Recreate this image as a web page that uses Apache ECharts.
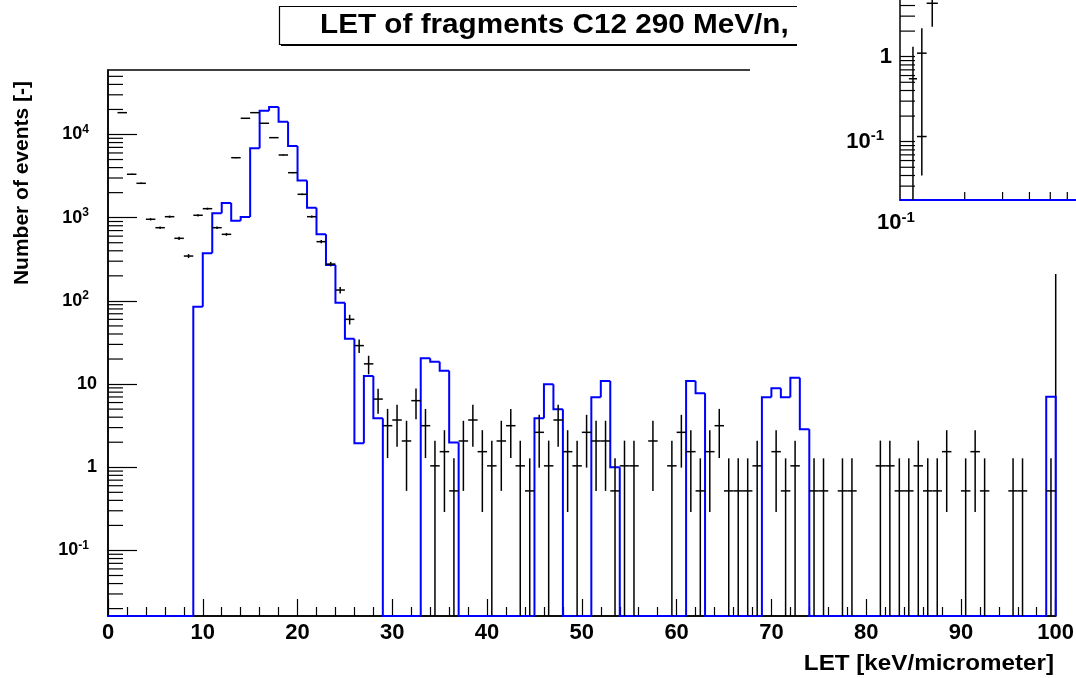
<!DOCTYPE html>
<html><head><meta charset="utf-8">
<script src="https://cdn.jsdelivr.net/npm/echarts@6/dist/echarts.min.js"></script>
<style>html,body{margin:0;padding:0;background:#fff}#c{width:1076px;height:678px}</style>
</head><body><div id="c"></div>
<script>
// ---------- text ----------
const titleText = 'LET of fragments C12 290 MeV/n,';
const xTitle = 'LET [keV/micrometer]';
const yTitle = 'Number of events [-]';

// ---------- data: 100 bins of 1 keV/um from 0 to 100 ----------
const letRange = [0, 100];
// measured events (black points with error bars)
const dataCounts = [
  0, 18300, 3325, 2590, 957, 758, 1028, 565, 346, 1069,
  1283, 758, 631, 5260, 15660, 18300, 13640, 9160, 5670, 3475,
  1910, 1028, 515, 277, 135, 60, 29, 17.5, 6.6, 3.16,
  3.70, 2.07, 6.32, 3.16, 1.04, 1.54, 0.52, 2.07, 3.70, 1.54,
  1.04, 2.07, 3.16, 1.04, 0.52, 2.63, 1.04, 3.70, 1.54, 1.04,
  2.63, 2.07, 2.07, 0.52, 1.04, 1.04, 0, 2.07, 0, 1.04,
  2.63, 1.54, 0.52, 1.54, 3.16, 0.52, 0.52, 0.52, 1.04, 0,
  1.54, 0.52, 1.04, 0, 0.52, 0.52, 0, 0.52, 0.52, 0,
  0, 1.04, 1.04, 0.52, 0.52, 1.04, 0.52, 0.52, 1.54, 0,
  0.52, 1.54, 0.52, 0, 0, 0.52, 0.52, 0, 0, 0.52
];
const dataErrors = [
  0, 140, 58, 51, 31, 28, 32, 24, 19, 33,
  36, 28, 25, 73, 125, 135, 117, 96, 75, 59,
  44, 32, 23, 17, 12, 8, 5.3, 4.4, 2.2, 1.87,
  1.93, 1.55, 2.55, 1.87, 1.05, 1.25, 0.76, 1.55, 1.93, 1.25,
  1.05, 1.55, 1.87, 1.05, 0.76, 1.64, 1.05, 1.93, 1.25, 1.05,
  1.64, 1.55, 1.55, 0.76, 1.05, 1.05, 0, 1.55, 0, 1.05,
  1.64, 1.25, 0.76, 1.25, 1.87, 0.76, 0.76, 0.76, 1.05, 0,
  1.25, 0.76, 1.05, 0, 0.76, 0.76, 0, 0.76, 0.76, 0,
  0, 1.05, 1.05, 0.76, 0.76, 1.05, 0.76, 0.76, 1.25, 0,
  0.76, 1.25, 0.76, 0, 0, 0.76, 0.76, 0, 0, 0.76
];
// simulation (blue histogram)
const mcCounts = [
  0, 0, 0, 0, 0, 0, 0, 0, 0, 85,
  373, 1130, 1500, 918, 1020, 6830, 19260, 21400, 14250, 7280,
  2790, 1320, 631, 270, 95, 35, 1.94, 12.5, 3.88, 0,
  0, 0, 0, 20.4, 18.6, 14.5, 1.98, 0, 0, 0,
  0, 0, 0, 0, 0, 3.88, 9.95, 4.98, 0, 0,
  0, 6.94, 10.9, 1.0, 0, 0, 0, 0, 0, 0,
  0, 10.9, 7.75, 0, 0, 0, 0, 0, 0, 6.94,
  8.9, 6.94, 11.9, 2.86, 0, 0, 0, 0, 0, 0,
  0, 0, 0, 0, 0, 0, 0, 0, 0, 0,
  0, 0, 0, 0, 0, 0, 0, 0, 0, 7.05
];
const yRange = [0.0163, 59600];

// inset (partly hidden second plot, log-log)
const insetBinLo = [0.11, 0.12, 0.133];
const insetBinHi = [0.12, 0.133, 0.15];
const insetCounts = [0.55, 1.1, 4.25];
const insetErrors = [0.76, 1.06, 2.0];
const insetExtraX = [0.12, 0.133];
const insetExtraY = [0.115];
const insetXRange = [0.1, 1];
const insetYRange = [0.0206, 18.0];

// ---------- helpers ----------
const FONT = 'Liberation Sans';
function powLabel(v) {
  const e = Math.round(Math.log10(v));
  if (e === 0) return '{b|1}';
  if (e === 1) return '{b|10}';
  return '{b|10}{s|' + e + '}';
}
function bottomOf(params) { return params.coordSys.y + params.coordSys.height; }
function topOf(params) { return params.coordSys.y; }
function yPix(api, params, x, v) {
  if (!(v > 0)) return bottomOf(params);
  return Math.max(topOf(params), Math.min(api.coord([x, v])[1], bottomOf(params)));
}

const nBins = dataCounts.length;
const binW = (letRange[1] - letRange[0]) / nBins;
const mcItems = mcCounts.map((v, i) => [letRange[0] + i * binW, letRange[0] + (i + 1) * binW, v, i > 0 ? mcCounts[i - 1] : 0]);
const dataItems = [];
dataCounts.forEach((v, i) => { if (v > 0) dataItems.push([letRange[0] + i * binW, letRange[0] + (i + 1) * binW, v, dataErrors[i]]); });
const insetItems = insetCounts.map((v, i) => [insetBinLo[i], insetBinHi[i], v, insetErrors[i]]);
const insetExtraItems = insetExtraY.map(v => [insetExtraX[0], insetExtraX[1], v, 0]);

// minor log ticks (2..9 x 10^k)
function logMinor(lo, hi) {
  const out = [];
  for (let k = -3; k <= 5; k++) for (let m = 2; m <= 9; m++) {
    const v = m * Math.pow(10, k);
    if (v > lo && v < hi) out.push(v);
  }
  return out;
}
const mainMinorY = logMinor(yRange[0], yRange[1]).map(v => [letRange[0], v]);
const insetMinorY = logMinor(insetYRange[0], insetYRange[1]).map(v => [insetXRange[0], v]);
const insetMinorX = logMinor(insetXRange[0], insetXRange[1]).map(v => [v, insetYRange[0]]);

function errRender(color, lw) {
  return function (params, api) {
    const lo = api.value(0), hi = api.value(1), v = api.value(2), e = api.value(3);
    const xl = api.coord([lo, v])[0], xh = api.coord([hi, v])[0];
    const xc = (xl + xh) / 2;
    const y = api.coord([lo, v])[1];
    const yTop = yPix(api, params, lo, v + e);
    const yBot = (v - e > 0) ? yPix(api, params, lo, v - e) : bottomOf(params);
    return {
      type: 'group',
      children: [
        { type: 'line', shape: { x1: xl, y1: y, x2: xh, y2: y }, style: { stroke: color, lineWidth: lw } },
        { type: 'line', shape: { x1: xc, y1: yTop, x2: xc, y2: yBot }, style: { stroke: color, lineWidth: lw } }
      ]
    };
  };
}

const richMain = {
  b: { fontFamily: FONT, fontWeight: 'bold', fontSize: 18, color: '#000', lineHeight: 22 },
  s: { fontFamily: FONT, fontWeight: 'bold', fontSize: 12, color: '#000', verticalAlign: 'top', lineHeight: 12, padding: [0, 8, 0, 0] }
};
const richInset = {
  b: { fontFamily: FONT, fontWeight: 'bold', fontSize: 22, color: '#000', lineHeight: 26 },
  s: { fontFamily: FONT, fontWeight: 'bold', fontSize: 15, color: '#000', verticalAlign: 'top', lineHeight: 15, padding: [0, 8, 0, 0] }
};

const option = {
  animation: false,
  backgroundColor: '#fff',
  grid: [
    { left: 108, top: 70, right: 20.3, bottom: 62, containLabel: false, outerBoundsMode: 'none',
      show: true, borderColor: '#000', borderWidth: 1.5, backgroundColor: 'transparent' },
    { left: 900, top: -50, width: 215, height: 250, containLabel: false, outerBoundsMode: 'none', show: false }
  ],
  xAxis: [
    { type: 'value', gridIndex: 0, min: letRange[0], max: letRange[1], interval: 10,
      axisLine: { show: true, lineStyle: { color: '#000', width: 1.5 } },
      axisTick: { show: true, inside: true, length: 17, lineStyle: { color: '#000', width: 1.2 } },
      minorTick: { show: true, splitNumber: 5, length: 9, lineStyle: { color: '#000', width: 1.2 } },
      splitLine: { show: false },
      axisLabel: { margin: 6, fontFamily: FONT, fontWeight: 'bold', fontSize: 22, color: '#000' }
    },
    { type: 'log', gridIndex: 1, min: insetXRange[0], max: insetXRange[1], z: 60,
      axisLine: { show: true, lineStyle: { color: '#0000ff', width: 2 } },
      axisTick: { show: false },
      splitLine: { show: false },
      axisLabel: { margin: 10, formatter: powLabel, rich: richInset, showMaxLabel: false }
    }
  ],
  yAxis: [
    { type: 'log', gridIndex: 0, min: yRange[0], max: yRange[1],
      axisLine: { show: true, lineStyle: { color: '#000', width: 1.5 } },
      axisTick: { show: true, inside: true, length: 29, lineStyle: { color: '#000', width: 1.2 } },
      splitLine: { show: false },
      axisLabel: { margin: 11, formatter: powLabel, rich: richMain, showMinLabel: false, showMaxLabel: false }
    },
    { type: 'log', gridIndex: 1, min: insetYRange[0], max: insetYRange[1], z: 60,
      axisLine: { show: true, lineStyle: { color: '#000', width: 1.5 } },
      axisTick: { show: true, inside: true, length: 15, lineStyle: { color: '#000', width: 1.2 } },
      splitLine: { show: false },
      axisLabel: { margin: 8, formatter: powLabel, rich: richInset, showMinLabel: false, showMaxLabel: false }
    }
  ],
  graphic: [
    { type: 'rect', z: 1, shape: { x: 281, y: 8, width: 620, height: 38 }, style: { fill: '#000' } },
    { type: 'rect', z: 2, shape: { x: 279.5, y: 6.5, width: 620, height: 38 }, style: { fill: '#fff', stroke: '#000', lineWidth: 1.2 } },
    { type: 'text', z: 3, x: 320, y: 25.5, scaleX: 1.1,
      style: { text: titleText, font: 'bold 27px "Liberation Sans"', fill: '#000', textAlign: 'left', textVerticalAlign: 'middle' } },
    { type: 'polygon', z: 50, shape: { points: [[750, 50], [797, 50], [797, 0], [1076, 0], [1076, 274], [750, 274]] }, style: { fill: '#fff' } },
    { type: 'text', z: 3, x: 22, y: 183, rotation: Math.PI / 2,
      style: { text: yTitle, font: 'bold 21px "Liberation Sans"', fill: '#000', textAlign: 'center', textVerticalAlign: 'middle' } },
    { type: 'text', z: 3, x: 1054, y: 664, scaleX: 1.1,
      style: { text: xTitle, font: 'bold 22px "Liberation Sans"', fill: '#000', textAlign: 'right', textVerticalAlign: 'middle' } }
  ],
  series: [
    { type: 'custom', name: 'minorY', xAxisIndex: 0, yAxisIndex: 0, coordinateSystem: 'cartesian2d', z: 3, silent: true,
      encode: { x: 0, y: 1 }, data: mainMinorY, clip: false,
      renderItem: (params, api) => {
        const p = api.coord([api.value(0), api.value(1)]);
        return { type: 'line', shape: { x1: p[0], y1: p[1], x2: p[0] + 15, y2: p[1] }, style: { stroke: '#000', lineWidth: 1.2 } };
      } },
    { type: 'custom', name: 'simulation', xAxisIndex: 0, yAxisIndex: 0, coordinateSystem: 'cartesian2d', z: 5, clip: false,
      encode: { x: [0, 1], y: 2 }, data: mcItems,
      renderItem: (params, api) => {
        const lo = api.value(0), hi = api.value(1), v = api.value(2), pv = api.value(3);
        const xl = api.coord([lo, yRange[1]])[0], xh = api.coord([hi, yRange[1]])[0];
        const y = yPix(api, params, lo, v), yp = yPix(api, params, lo, pv);
        const pts = [[xl, yp], [xl, y], [xh, y]];
        if (params.dataIndex === mcItems.length - 1) pts.push([xh, bottomOf(params)]);
        return { type: 'polyline', shape: { points: pts }, style: { stroke: '#0000ff', lineWidth: 2, fill: null } };
      } },
    { type: 'custom', name: 'data', xAxisIndex: 0, yAxisIndex: 0, coordinateSystem: 'cartesian2d', z: 6, clip: false,
      encode: { x: [0, 1], y: 2 }, data: dataItems, renderItem: errRender('#000', 1.5) },
    // inset
    { type: 'custom', name: 'insetMinorY', xAxisIndex: 1, yAxisIndex: 1, coordinateSystem: 'cartesian2d', z: 61, silent: true,
      encode: { x: 0, y: 1 }, data: insetMinorY, clip: false,
      renderItem: (params, api) => {
        const p = api.coord([api.value(0), api.value(1)]);
        return { type: 'line', shape: { x1: p[0], y1: p[1], x2: p[0] + 15, y2: p[1] }, style: { stroke: '#000', lineWidth: 1.2 } };
      } },
    { type: 'custom', name: 'insetMinorX', xAxisIndex: 1, yAxisIndex: 1, coordinateSystem: 'cartesian2d', z: 61, silent: true,
      encode: { x: 0, y: 1 }, data: insetMinorX, clip: false,
      renderItem: (params, api) => {
        const p = api.coord([api.value(0), api.value(1)]);
        return { type: 'line', shape: { x1: p[0], y1: p[1] - 1, x2: p[0], y2: p[1] - 8 }, style: { stroke: '#000', lineWidth: 1.2 } };
      } },
    { type: 'custom', name: 'insetData', xAxisIndex: 1, yAxisIndex: 1, coordinateSystem: 'cartesian2d', z: 62, clip: false,
      encode: { x: [0, 1], y: 2 }, data: insetItems, renderItem: errRender('#000', 1.5) },
    { type: 'custom', name: 'insetData2', xAxisIndex: 1, yAxisIndex: 1, coordinateSystem: 'cartesian2d', z: 62, clip: false,
      encode: { x: [0, 1], y: 2 }, data: insetExtraItems, renderItem: errRender('#000', 1.5) }
  ]
};
const chart = echarts.init(document.getElementById('c'));
chart.setOption(option);
</script></body></html>
